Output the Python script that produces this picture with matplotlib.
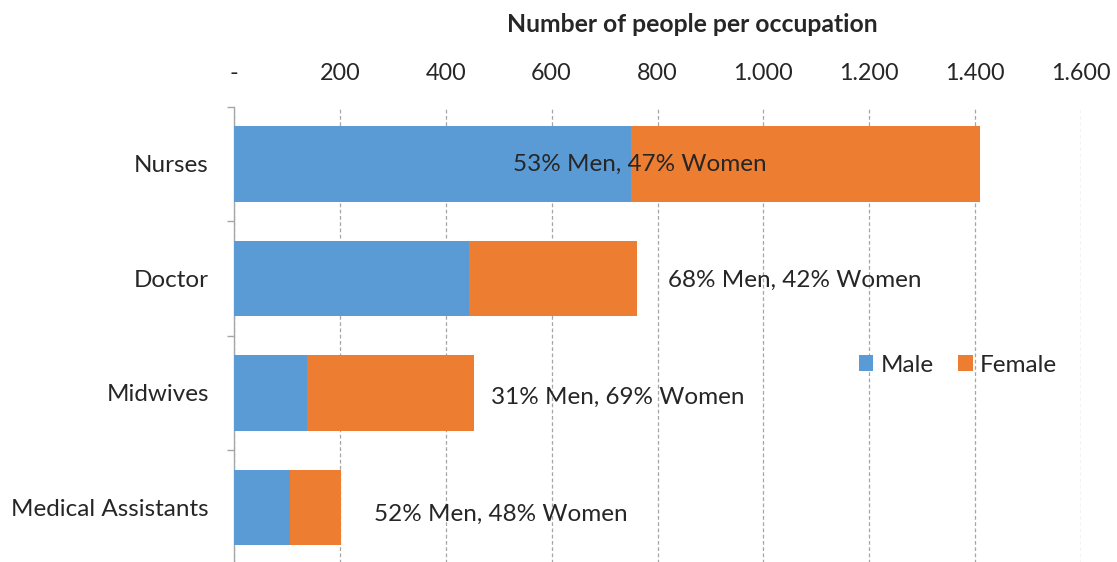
import matplotlib
matplotlib.use("Agg")
import matplotlib.pyplot as plt
from matplotlib.ticker import FuncFormatter, FixedLocator
from matplotlib.patches import Patch

plt.rcParams['font.family'] = ['Lato', 'DejaVu Sans']

categories = ["Nurses", "Doctor", "Midwives", "Medical Assistants"]
male = [750, 444, 138, 106]
female = [660, 318, 315, 97]
labels = ["53% Men, 47% Women", "68% Men, 42% Women",
          "31% Men, 69% Women", "52% Men, 48% Women"]
label_x = [527, 820, 485, 264]
xticks = [0, 200, 400, 600, 800, 1000, 1200, 1400, 1600]

blue = "#5B9BD5"
orange = "#ED7D31"
text_col = "#262626"

fig = plt.figure(figsize=(11.17, 5.62), dpi=100)
W, H = 1117, 562
left, right = 234, 1081
top, bottom = 106.7, 564.7
ax = fig.add_axes([left / W, (H - bottom) / H, (right - left) / W, (bottom - top) / H])

y = list(range(len(categories)))
ax.barh(y, male, height=0.66, color=blue, label="Male", zorder=3)
ax.barh(y, female, left=male, height=0.66, color=orange, label="Female", zorder=3)

for i, (lx, t) in enumerate(zip(label_x, labels)):
    ax.text(lx, i + 0.02 * i, t, va="center", ha="left",
            fontsize=17.5, color=text_col, zorder=4)

ax.set_xlim(0, 1600)
ax.set_ylim(3.5, -0.5)

ax.xaxis.tick_top()
ax.set_xticks(xticks)
ax.xaxis.set_major_formatter(FuncFormatter(
    lambda v, p: "-" if v == 0 else f"{v:,.0f}".replace(",", ".")))
ax.tick_params(axis="x", length=0, pad=16.5, labelsize=16.8, labelcolor=text_col)
ax.grid(axis="x", linestyle=(0, (3, 2)), color="#A6A6A6", linewidth=0.9, zorder=0)

ax.set_yticks(y)
ax.set_yticklabels(categories)
ax.tick_params(axis="y", which="major", length=0, pad=18, labelsize=17.5, labelcolor=text_col)
ax.yaxis.set_minor_locator(FixedLocator([-0.5, 0.5, 1.5, 2.5, 3.5]))
ax.tick_params(axis="y", which="minor", length=5, color="#A6A6A6", width=1)

for s in ["top", "right", "bottom"]:
    ax.spines[s].set_visible(False)
ax.spines["left"].set_color("#A6A6A6")
ax.spines["left"].set_linewidth(1)

fig.text(692 / W, 1 - 25 / H, "Number of people per occupation", ha="center", va="center",
         fontsize=17.8, fontweight="bold", color=text_col)

handles = [Patch(facecolor=blue, label="Male"), Patch(facecolor=orange, label="Female")]
fig.legend(handles=handles, loc="center", bbox_to_anchor=(958 / W, 1 - 365 / H),
           ncol=2, frameon=False, fontsize=17.5, handlelength=0.6, handleheight=0.6,
           handletextpad=0.3, columnspacing=1.0, labelcolor=text_col)

fig.savefig("out.png", dpi=100)
